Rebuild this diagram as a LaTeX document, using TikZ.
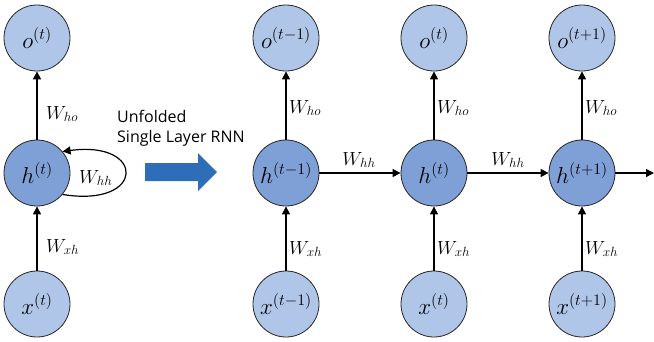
\RequirePackage{fix-cm}
\documentclass[tikz,border=0pt]{standalone}
\usepackage{fontspec}
\newfontfamily\uifont{Open Sans}
\usetikzlibrary{arrows.meta}
\definecolor{lightc}{HTML}{AFC6E8}
\definecolor{darkc}{HTML}{7FA0D6}
\definecolor{bigarrow}{HTML}{2E6EB8}
\tikzset{
  unit/.style={circle,draw=black!85,line width=0.8pt,minimum size=66pt,inner sep=0pt,font=\fontsize{23}{27}\selectfont},
  io/.style={unit,fill=lightc},
  hid/.style={unit,fill=darkc},
  conn/.style={-{Triangle[length=8pt,width=8pt]},line width=1.2pt},
  wlab/.style={font=\fontsize{19}{22}\selectfont,inner sep=0pt}
}
\begin{document}
\begin{tikzpicture}[x=1pt,y=-1pt]
\useasboundingbox (0,0) rectangle (654,341);
% folded
\node[io]  (o0) at (37,38)  {$o^{(t)}$};
\node[hid] (h0) at (37,173) {$h^{(t)}$};
\node[io]  (x0) at (37,304) {$x^{(t)}$};
\draw[conn] (x0) -- (h0);
\draw[conn] (h0) -- (o0);
\draw[conn] (h0.-40) .. controls (146,208) and (146,140) .. (h0.40);
\node[wlab,anchor=west] (lho0) at (46,114) {$W_{ho}$};
\node[wlab,anchor=west] (lxh0) at (46,247) {$W_{xh}$};
\node[wlab,anchor=west] (lhh0) at (79,178) {$W_{hh}$};
% label and big arrow
\node[font=\uifont\fontsize{16}{20}\selectfont,align=left,anchor=west,inner sep=0pt] (txt) at (117,128) {Unfolded\\Single Layer RNN};
\fill[bigarrow] (145,163) -- (198,163) -- (198,153) -- (217,172) -- (198,191) -- (198,181) -- (145,181) -- cycle;
% unfolded
\node[io]  (o1) at (286,38)  {$o^{(t-1)}$};
\node[hid] (h1) at (286,173) {$h^{(t-1)}$};
\node[io]  (x1) at (286,304) {$x^{(t-1)}$};
\node[io]  (o2) at (434,38)  {$o^{(t)}$};
\node[hid] (h2) at (434,173) {$h^{(t)}$};
\node[io]  (x2) at (434,304) {$x^{(t)}$};
\node[io]  (o3) at (582,38)  {$o^{(t+1)}$};
\node[hid] (h3) at (582,173) {$h^{(t+1)}$};
\node[io]  (x3) at (582,304) {$x^{(t+1)}$};
\coordinate (end) at (654,173);
\foreach \i in {1,2,3}{
  \draw[conn] (x\i) -- (h\i);
  \draw[conn] (h\i) -- (o\i);
}
\draw[conn] (h1) -- (h2);
\draw[conn] (h2) -- (h3);
\draw[conn] (h3) -- (end);
\node[wlab,anchor=west] (lho1) at (289,108) {$W_{ho}$};
\node[wlab,anchor=west] (lho2) at (437,108) {$W_{ho}$};
\node[wlab,anchor=west] (lho3) at (585,108) {$W_{ho}$};
\node[wlab,anchor=west] (lxh1) at (289,249) {$W_{xh}$};
\node[wlab,anchor=west] (lxh2) at (437,249) {$W_{xh}$};
\node[wlab,anchor=west] (lxh3) at (585,249) {$W_{xh}$};
\node[wlab] (lhh1) at (359,160) {$W_{hh}$};
\node[wlab] (lhh2) at (508,160) {$W_{hh}$};
\end{tikzpicture}
\end{document}
